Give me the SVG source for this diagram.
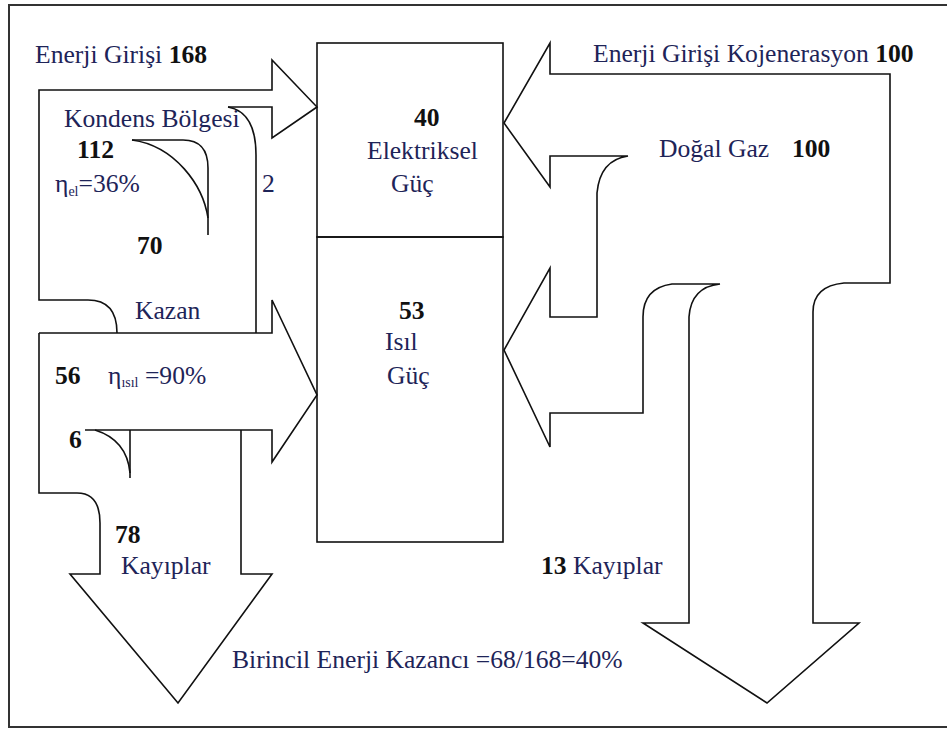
<svg xmlns="http://www.w3.org/2000/svg" width="947" height="729" viewBox="0 0 947 729">
<style>
.ln{fill:none;stroke:#111;stroke-width:1.6;stroke-linejoin:miter}
.t{font-family:"Liberation Serif","Times New Roman",serif;font-size:25.6px;fill:#1e2458}
.b{font-family:"Liberation Serif","Times New Roman",serif;font-size:25.6px;font-weight:bold;fill:#111}
.s{font-size:14px}
</style>
<rect width="947" height="729" fill="#fff"/>
<path d="M947,5 H9 V727 H947" fill="none" stroke="#333" stroke-width="2"/>
<g id="elektriksel-guc">
<rect class="ln" x="317" y="43" width="186" height="194"/>
<text class="b" x="414" y="126">40</text>
<text class="t" x="367" y="159">Elektriksel</text>
<text class="t" x="391" y="192">Güç</text>
</g>
<g id="isil-guc">
<rect class="ln" x="317" y="237" width="186" height="305"/>
<text class="b" x="399" y="319">53</text>
<text class="t" x="385" y="350">Isıl</text>
<text class="t" x="387" y="384">Güç</text>
</g>
<g id="connectors">
<path class="ln" d="M228,107 H272 V138 L317,107 L272,60 V90 H39 V300 H88 Q117,300 117,333"/>
<path class="ln" d="M228,107 Q256,112 256,155 V333"/>
<path class="ln" d="M132,140 H183 Q208,140 208,168 V235"/>
<path class="ln" d="M132,140 C175,146 203,185 208,218"/>
<path class="ln" d="M39,333 H272 V300 L317,395 L272,462 V430 H85"/>
<path class="ln" d="M95,430 Q127,440 130,473"/>
<path class="ln" d="M130,430 V478"/>
<path class="ln" d="M39,333 V493 H77 Q100,493 100,523 V574 H70 L178,703 L272,574 H241 V430"/>
<path class="ln" d="M550,268 V317 H597 V193 Q600,160 628,156 H550 V187 L504,123 L550,43 V74 H890 V283 H844 Q813,286 813,312 V623 H859 L767,703 L643,623 H689 V317 Q691,287 720,284 H672 Q643,288 643,317 V413 H550 V447 L504,350 Z"/>
</g>
<g id="labels">
<text class="t" x="35" y="63">Enerji Girişi <tspan class="b">168</tspan></text>
<text class="t" x="64" y="127">Kondens Bölgesi</text>
<text class="b" x="77" y="158">112</text>
<text class="t" x="55" y="192">η<tspan class="s" dy="4">el</tspan><tspan dy="-4">=36%</tspan></text>
<text class="t" x="262" y="192">2</text>
<text class="b" x="137" y="254">70</text>
<text class="t" x="135" y="319">Kazan</text>
<text class="b" x="55" y="384">56</text>
<text class="t" x="108" y="384">η<tspan class="s" dy="3">ısıl</tspan><tspan dy="-3"> =90%</tspan></text>
<text class="b" x="69" y="448">6</text>
<text class="b" x="115" y="543">78</text>
<text class="t" x="121" y="574">Kayıplar</text>
<text class="t" x="593" y="62">Enerji Girişi Kojenerasyon <tspan class="b">100</tspan></text>
<text class="t" x="659" y="157">Doğal Gaz <tspan class="b" x="792">100</tspan></text>
<text class="t" x="541" y="574"><tspan class="b">13</tspan> Kayıplar</text>
<text class="t" x="232" y="668">Birincil Enerji Kazancı =68/168=40%</text>
</g>
</svg>
